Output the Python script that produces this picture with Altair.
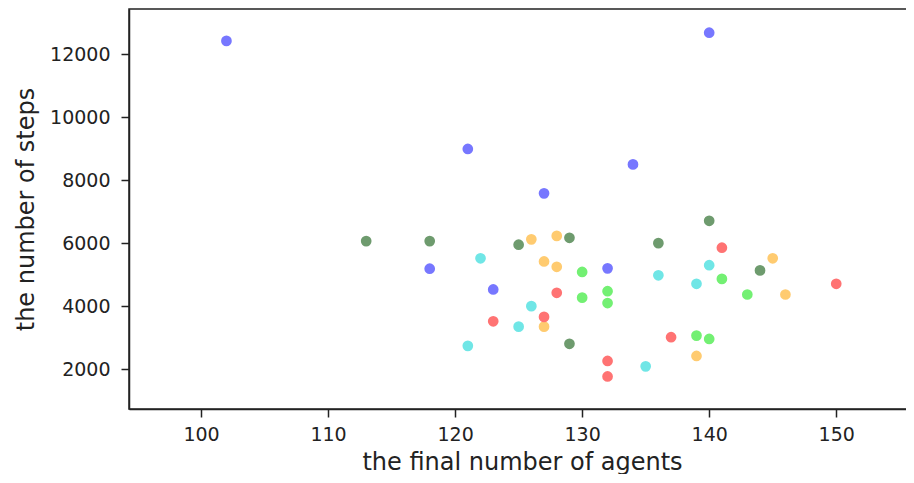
import altair as alt
import pandas as pd

series_names = ["s1", "s2", "s3", "s4", "s5", "s6"]
series_colors = ["#7777ff", "#6e9b6e", "#ffcb70", "#70e6e6", "#ff7373", "#73f073"]

s1_x = [102, 121, 140, 134, 127, 118, 123, 132]
s1_y = [12430, 9000, 12690, 8510, 7590, 5200, 4540, 5210]

s2_x = [113, 118, 125, 129, 136, 140, 144, 129]
s2_y = [6075, 6075, 5960, 6180, 6010, 6720, 5145, 2815]

s3_x = [126, 128, 127, 128, 145, 146, 127, 139]
s3_y = [6130, 6240, 5430, 5260, 5530, 4380, 3360, 2430]

s4_x = [122, 121, 125, 126, 136, 140, 139, 135]
s4_y = [5530, 2750, 3360, 4010, 4990, 5310, 4720, 2100]

s5_x = [123, 128, 127, 141, 150, 137, 132, 132]
s5_y = [3530, 4435, 3670, 5865, 4720, 3025, 2270, 1780]

s6_x = [130, 130, 132, 132, 141, 143, 139, 140]
s6_y = [5095, 4280, 4485, 4110, 4875, 4380, 3075, 2970]

xs = [s1_x, s2_x, s3_x, s4_x, s5_x, s6_x]
ys = [s1_y, s2_y, s3_y, s4_y, s5_y, s6_y]

rows = []
for name, xv, yv in zip(series_names, xs, ys):
    for a, b in zip(xv, yv):
        rows.append({"series": name, "agents": a, "steps": b})
df = pd.DataFrame(rows)

x_ticks = [100, 110, 120, 130, 140, 150]
y_ticks = [2000, 4000, 6000, 8000, 10000, 12000]

FONT = "DejaVu Sans"
INK = "#222222"

chart = alt.Chart(df).mark_circle(size=115, opacity=1).encode(
    x=alt.X(
        "agents:Q",
        scale=alt.Scale(domain=[94.33, 156.2], nice=False, zero=False),
        axis=alt.Axis(
            values=x_ticks, grid=False, tickSize=8, tickWidth=1.5, tickColor=INK,
            domainColor=INK, domainWidth=1.5, labelFont=FONT, labelFontSize=19,
            labelColor=INK, labelPadding=8, labelFlush=False, labelOverlap=False,
            format="d",
            title="the final number of agents", titleFont=FONT, titleFontSize=24,
            titleFontWeight="normal", titleColor=INK, titleX=393, titleY=60,
            titleAlign="center", titleBaseline="alphabetic",
        ),
    ),
    y=alt.Y(
        "steps:Q",
        scale=alt.Scale(domain=[746, 13442], nice=False, zero=False),
        axis=alt.Axis(
            values=y_ticks, grid=False, tickSize=8, tickWidth=1.5, tickColor=INK,
            domainColor=INK, domainWidth=1.5, labelFont=FONT, labelFontSize=19,
            labelColor=INK, labelPadding=11, labelFlush=False, labelOverlap=False,
            format="d",
            title="the number of steps", titleFont=FONT, titleFontSize=24,
            titleFontWeight="normal", titleColor=INK, titleAngle=270,
            titleX=-96, titleY=200, titleAlign="center", titleBaseline="alphabetic",
        ),
    ),
    color=alt.Color(
        "series:N",
        scale=alt.Scale(domain=series_names, range=series_colors),
        legend=None,
    ),
).properties(
    width=786,
    height=400,
    autosize=alt.AutoSizeParams(type="none"),
    padding={"left": 121, "top": 1, "right": -9, "bottom": 65},
).configure_view(
    stroke=INK, strokeWidth=1.5
)

chart.save("out.html", embed_options={"renderer": "svg", "actions": False})
